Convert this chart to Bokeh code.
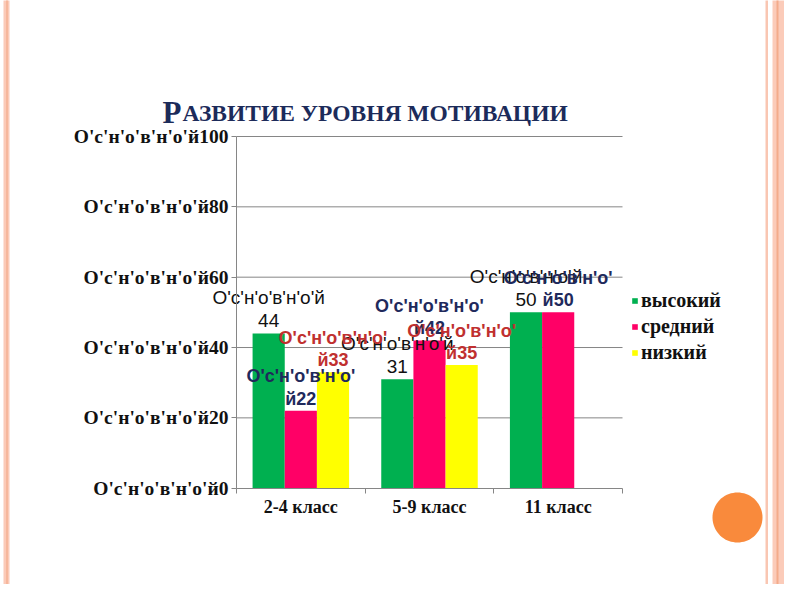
import numpy as np
from bokeh.plotting import figure
from bokeh.models import (ColumnDataSource, Range1d, FixedTicker, CustomJSTickFormatter,
                          Legend, LegendItem, Label, BoxAnnotation, PolyAnnotation)
from bokeh.transform import dodge
from bokeh.core.properties import value
from bokeh.embed import file_html
from bokeh.resources import INLINE

# ---------------- data ----------------
title_text = "Развитие уровня мотивации"
categories = ["2-4 класс", "5-9 класс", "11 класс"]
series_names = ["высокий", "средний", "низкий"]
vysokiy = [44, 31, 50]
sredniy = [22, 42, 50]
nizkiy = [33, 35, 0]
y_ticks = [0, 20, 40, 60, 80, 100]
tick_prefix = "О'с'н'о'в'н'о'й"
label_prefix = "О'с'н'о'в'н'о'"

# ---------------- styles ----------------
bar_colors = ["#00b050", "#ff0066", "#ffff00"]
label_colors = ["#111111", "#1f2a5c", "#c0302f"]
label_styles = ["normal", "bold", "bold"]
label_sizes = ["19px", "18px", "18px"]
offsets = [-0.25, 0.0, 0.25]
grid_col = "#868686"
serif = "Liberation Serif"
sans = "Liberation Sans"

W, H = 784, 584
# plot-area geometry on the canvas (pixels); the frame spans the whole canvas
fx0, fx1, fy_top, fy_bot = 236.0, 622.0, 136.0, 487.7
pxx = (fx1 - fx0) / len(categories)
pxy = (fy_bot - fy_top) / 100.0
def dx(px):
    return (px - fx0) / pxx
def dy(py):
    return (fy_bot - py) / pxy

p = figure(width=W, height=H, output_backend="svg", toolbar_location=None,
           x_range=Range1d(dx(0), dx(W)), y_range=Range1d(dy(H), dy(0)),
           min_border=0)
p.outline_line_color = None
p.background_fill_color = "white"
p.border_fill_color = "white"
p.xgrid.visible = False
p.ygrid.visible = False

# slide decorations
stripes = [(3, 9, "#fbcab8"), (5.5, 7.5, "#f6b79c"),
           (765, 767.5, "#f9c6b2"), (772, 800, "#fbcbb9"),
           (776, 778, "#f4ab8b"), (785.5, 787.5, "#f6b497")]
for a, b, c in stripes:
    p.add_layout(BoxAnnotation(left=dx(a), right=dx(b), bottom=dy(H + 50), top=dy(-50),
                               fill_color=c, fill_alpha=1, line_color=None, level="underlay"))
t = np.linspace(0, 2 * np.pi, 73)
cx, cy, rr = 737, 517, 25
p.add_layout(PolyAnnotation(xs=list(dx(cx + rr * np.cos(t))), ys=list(dy(cy + rr * np.sin(t))),
                            fill_color="#f98a3c", fill_alpha=1, line_color=None))

# horizontal gridlines over the category span
n_cat = len(categories)
p.segment(x0=[0] * (len(y_ticks) - 1), x1=[n_cat] * (len(y_ticks) - 1),
          y0=y_ticks[1:], y1=y_ticks[1:], line_color=grid_col, line_width=1)

xs = [i + 0.5 for i in range(n_cat)]
series = [vysokiy, sredniy, nizkiy]
src = ColumnDataSource(dict(x=xs, cat=categories, v0=vysokiy, v1=sredniy, v2=nizkiy))

renderers = []
for k in range(3):
    r = p.vbar(x=dodge('x', offsets[k], range=p.x_range), top=f"v{k}", width=0.25,
               source=src, fill_color=bar_colors[k], line_color=None)
    renderers.append(r)

# data labels
for k, vals in enumerate(series):
    lx, ly, lt = [], [], []
    for i, v in enumerate(vals):
        if v <= 0:
            continue
        lx.append(xs[i])
        ly.append(v)
        if k == 0:
            lt.append(f"{tick_prefix}\n{v}")
        else:
            lt.append(f"{label_prefix}\nй{v}")
    ls = ColumnDataSource(dict(x=lx, y=ly, text=lt))
    p.text(x=dodge('x', offsets[k], range=p.x_range), y='y', text='text', source=ls,
           text_align="center", text_baseline="bottom", y_offset=-2,
           text_font=value(sans), text_font_size=label_sizes[k], text_font_style=label_styles[k],
           text_color=label_colors[k], text_line_height=1.12)

# axes (fixed at the plot-area edges)
p.yaxis.fixed_location = 0
p.yaxis.bounds = (0, 100)
p.yaxis.ticker = FixedTicker(ticks=y_ticks)
p.yaxis.formatter = CustomJSTickFormatter(args=dict(prefix=tick_prefix),
                                          code="return prefix + tick.toFixed(0);")
p.yaxis.major_label_text_font = serif
p.yaxis.major_label_text_font_style = "bold"
p.yaxis.major_label_text_font_size = "19.5px"
p.yaxis.major_label_text_color = "#111111"
p.yaxis.major_tick_out = 5
p.yaxis.major_tick_in = 0
p.yaxis.minor_tick_out = 0
p.yaxis.minor_tick_in = 0
p.yaxis.major_label_standoff = 3
p.yaxis.axis_line_color = grid_col
p.yaxis.major_tick_line_color = grid_col

p.xaxis.fixed_location = 0
p.xaxis.bounds = (0, n_cat)
p.xaxis.ticker = FixedTicker(ticks=xs, minor_ticks=list(range(n_cat + 1)))
p.xaxis.formatter = CustomJSTickFormatter(args=dict(cats=categories),
                                          code="return cats[Math.floor(tick)];")
p.xaxis.major_label_text_font = serif
p.xaxis.major_label_text_font_style = "bold"
p.xaxis.major_label_text_font_size = "18px"
p.xaxis.major_label_text_color = "#111111"
p.xaxis.major_tick_out = 0
p.xaxis.major_tick_in = 0
p.xaxis.minor_tick_out = 5
p.xaxis.minor_tick_in = 0
p.xaxis.minor_tick_line_color = grid_col
p.xaxis.axis_line_color = grid_col
p.xaxis.major_label_standoff = 4

# legend
legend = Legend(items=[LegendItem(label=series_names[k], renderers=[renderers[k]]) for k in range(3)],
                location=(631, H - 364), glyph_width=7, glyph_height=7,
                label_text_font=serif, label_text_font_style="bold",
                label_text_font_size="20px", label_text_color="#111111",
                label_height=22, spacing=3, padding=0, margin=0, label_standoff=3,
                border_line_color=None, background_fill_alpha=0)
p.add_layout(legend)

# title (small caps)
title_col = "#1c2b5a"
p.add_layout(Label(x=dx(162), y=dy(112), text=title_text[0], text_font=serif,
                   text_font_style="bold", text_font_size="31px", text_color=title_col,
                   text_baseline="alphabetic", text_align="left"))
p.add_layout(Label(x=dx(182), y=dy(112), text=title_text[1:].upper(), text_font=serif,
                   text_font_style="bold", text_font_size="23.5px", text_color=title_col,
                   text_baseline="alphabetic", text_align="left"))

open("out.html", "w").write(file_html(p, INLINE))
